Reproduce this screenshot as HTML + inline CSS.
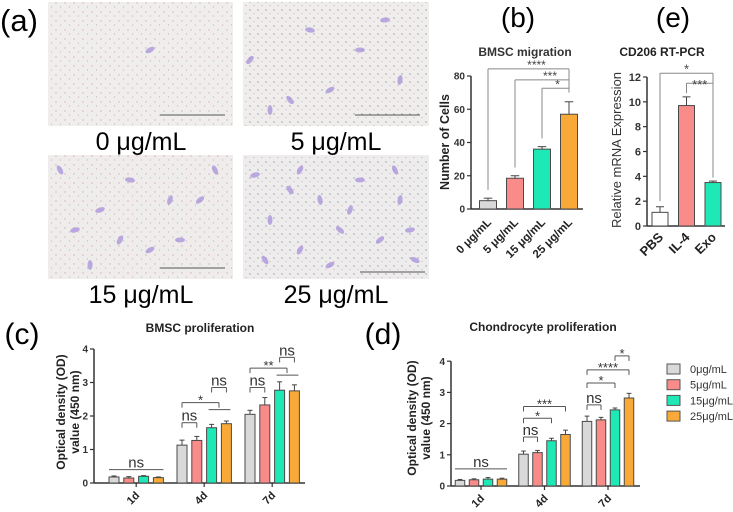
<!DOCTYPE html>
<html><head><meta charset="utf-8"><style>
body{margin:0;background:#fff;width:733px;height:512px;overflow:hidden}
svg{display:block;font-family:"Liberation Sans",Arial,sans-serif}
</style></head><body>
<svg id="fig" width="733" height="512" viewBox="0 0 733 512">
<defs>
<pattern id="dots" width="9" height="9" patternUnits="userSpaceOnUse">
<circle cx="2" cy="3" r="0.7" fill="#dcaab2"/><circle cx="6.5" cy="7" r="0.6" fill="#d0b0b5"/>
</pattern>
<pattern id="dots2" width="8" height="8" patternUnits="userSpaceOnUse">
<circle cx="2" cy="2" r="0.7" fill="#999"/><circle cx="6" cy="5.5" r="0.6" fill="#d8a8b0"/>
</pattern>
</defs>
<g id="panel-a">
<text x="0" y="31" font-size="31">(a)</text>
<g><rect x="48" y="2" width="185" height="124" fill="#efeeec"/><rect x="48" y="2" width="185" height="124" fill="url(#dots)"/><line x1="160" y1="115" x2="225" y2="115" stroke="#555" stroke-width="1"/></g>
<g><rect x="243" y="2" width="186" height="124" fill="#efeeec"/><rect x="243" y="2" width="186" height="124" fill="url(#dots2)"/><line x1="355" y1="115" x2="420" y2="115" stroke="#555"/></g>
<g><rect x="48" y="155" width="185" height="124" fill="#eeedec"/><rect x="48" y="155" width="185" height="124" fill="url(#dots)"/><line x1="160" y1="268" x2="225" y2="268" stroke="#555"/></g>
<g><rect x="243" y="155" width="186" height="124" fill="#eeedee"/><rect x="243" y="155" width="186" height="124" fill="url(#dots2)"/><line x1="360" y1="272" x2="425" y2="272" stroke="#555"/></g>
<g id="cells"></g>
<text x="141" y="150" font-size="25" text-anchor="middle">0 μg/mL</text>
<text x="336" y="150" font-size="25" text-anchor="middle">5 μg/mL</text>
<text x="141" y="303" font-size="25" text-anchor="middle">15 μg/mL</text>
<text x="336" y="303" font-size="25" text-anchor="middle">25 μg/mL</text>
</g>
<text x="518" y="27" font-size="28" text-anchor="middle">(b)</text>
<text x="673" y="27" font-size="28" text-anchor="middle">(e)</text>
<text x="22" y="344" font-size="30" text-anchor="middle">(c)</text>
<text x="383" y="344" font-size="30" text-anchor="middle">(d)</text>
<g id="charts"></g>
</svg>
<script>
// Panel b data
const bCats=["0 μg/mL","5 μg/mL","15 μg/mL","25 μg/mL"];
const bVals=[5,18.5,36,57];
const bErr=[1.5,1.5,1.5,7.5];
const bTicks=[0,20,40,60,80];
// Panel e data
const eCats=["PBS","IL-4","Exo"];
const eVals=[1.1,9.7,3.5];
const eErr=[0.45,0.7,0.12];
const eTicks=[0,2,4,6,8,10,12];
// Panels c/d data
const days=["1d","4d","7d"];
const groups=["0μg/mL","5μg/mL","15μg/mL","25μg/mL"];
const cVals=[[0.18,0.15,0.2,0.16],[1.13,1.27,1.65,1.77],[2.05,2.33,2.77,2.75]];
const cErr=[[0.03,0.04,0.02,0.02],[0.15,0.12,0.1,0.08],[0.12,0.22,0.25,0.18]];
const dVals=[[0.18,0.2,0.22,0.22],[1.02,1.07,1.45,1.65],[2.07,2.12,2.44,2.82]];
const dErr=[[0.03,0.03,0.05,0.03],[0.1,0.07,0.08,0.14],[0.17,0.08,0.06,0.15]];
const odTicks=[0,1,2,3,4];
const colors=["#d9d9d9","#f98c88","#1ee8b5","#f9a938"];
const ePalette=["#ffffff","#f98c88","#1ee8b5"];

const NS="http://www.w3.org/2000/svg";
const root=document.getElementById('charts');
function el(tag,attrs,parent,txt){const e=document.createElementNS(NS,tag);for(const k in attrs)e.setAttribute(k,attrs[k]);if(txt!==undefined)e.textContent=txt;(parent||root).appendChild(e);return e;}
function line(x1,y1,x2,y2,g,c,w){return el('line',{x1,y1,x2,y2,stroke:c||'#444','stroke-width':w||1},g);}
function bar(g,name,x,w,y0,yv,ye,fill){
  const r=el('rect',{x:x-w/2,y:yv,width:w,height:y0-yv,fill,stroke:'#4a4a4a','stroke-width':1},g);
  
  
  line(x,yv,x,ye,g);line(x-w/4,ye,x+w/4,ye,g);
}
function axes(g,x0,x1,y0,ticks,ys,fs){
  line(x0,y0,x0,ys(ticks[ticks.length-1]),g,'#333',1.5);
  line(x0,y0,x1,y0,g,'#333',1.5);
  ticks.forEach(t=>{const y=ys(t);line(x0-4,y,x0,y,g,'#333',1.2);
    el('text',{x:x0-6,y:y+fs*0.36,'font-size':fs,'text-anchor':'end','font-weight':'bold',fill:'#333'},g,t);});
}
function grp(name){const g=el('g',{});return g;}

// ---- Panel b
(function(){
  const g=grp('chart-b-bmsc-migration');
  const y0=209,k=(209-76)/80,ys=v=>y0-v*k,xs=i=>488+i*27;
  el('text',{x:525,y:56,'font-size':12,'text-anchor':'middle','font-weight':'bold',fill:'#333'},g,'BMSC migration');
  axes(g,471,583,y0,bTicks,ys,10);
  bVals.forEach((v,i)=>{const xt=xs(i);bar(g,'bar-b-'+i,xt,17,y0,ys(v),ys(v+bErr[i]),colors[i]);
    el('text',{x:xt+4,y:y0+14,'font-size':11.5,'font-weight':'bold','text-anchor':'end',transform:`rotate(-45 ${xt+4} ${y0+14})`,fill:'#222'},g,bCats[i]);});
  el('text',{x:449,y:142,'font-size':12.5,'font-weight':'bold','text-anchor':'middle',transform:'rotate(-90 449 142)',fill:'#222'},g,'Number of Cells');
  const sig=[[0,84.3,'****'],[1,77.7,'***'],[2,72.6,'*']];
  sig.forEach(([i,v,s])=>{const y=ys(v);line(xs(i),y,xs(3),y,g,'#888');line(xs(i),y,xs(i),ys(bVals[i]+bErr[i]+5),g,'#888');
    el('text',{x:(xs(i)+xs(3))/2+(i==2?2:8),y:y,'font-size':12,'text-anchor':'middle',fill:'#444'},g,s);});
  line(xs(3),ys(84.3),xs(3),ys(70),g,'#888');
})();

// ---- Panel e
(function(){
  const g=grp('chart-e-cd206');
  const y0=226,k=(226-77)/12,ys=v=>y0-v*k,xs=i=>660+i*26.5;
  el('text',{x:662,y:56,'font-size':12,'text-anchor':'middle','font-weight':'bold',fill:'#222'},g,'CD206 RT-PCR');
  axes(g,647,725,y0,eTicks,ys,11);
  eVals.forEach((v,i)=>{const xt=xs(i);bar(g,'bar-e-'+i,xt,16,y0,ys(v),ys(v+eErr[i]),ePalette[i]);
    el('text',{x:xt+4,y:y0+12,'font-size':13,'font-weight':'bold','text-anchor':'end',transform:`rotate(-45 ${xt+4} ${y0+12})`,fill:'#222'},g,eCats[i]);});
  el('text',{x:621,y:150,'font-size':13,'text-anchor':'middle',transform:'rotate(-90 621 150)',fill:'#333'},g,'Relative mRNA Expression');
  const y1=ys(12.3),y2=ys(11.5);
  line(xs(0),y1,xs(2),y1,g,'#888');line(xs(0),y1,xs(0),ys(2),g,'#888');
  line(xs(1),y2,xs(2),y2,g,'#888');line(xs(1),y2,xs(1),ys(10.7),g,'#888');
  line(xs(2),y1,xs(2),ys(3.9),g,'#888');
  el('text',{x:(xs(0)+xs(2))/2,y:y1,'font-size':13,'text-anchor':'middle',fill:'#444'},g,'*');
  el('text',{x:(xs(1)+xs(2))/2,y:y2+6,'font-size':13,'text-anchor':'middle',fill:'#444'},g,'***');
})();

// ---- Panels c & d
function odChart(name,cfg,vals,errs,sigs){
  const g=grp(name);
  const ys=v=>cfg.y0-v*cfg.k,xs=(d,i)=>cfg.x0+cfg.gx0+d*cfg.gd+i*cfg.bd;
  el('text',{x:cfg.tx,y:cfg.ty,'font-size':12,'text-anchor':'middle','font-weight':'bold',fill:'#222'},g,cfg.title);
  axes(g,cfg.x0,cfg.x1,cfg.y0,odTicks,ys,10);
  vals.forEach((row,d)=>{row.forEach((v,i)=>bar(g,`bar-${cfg.id}-${days[d]}-${i}`,xs(d,i),cfg.bw,cfg.y0,ys(v),ys(v+errs[d][i]),colors[i]));
    const cx=(xs(d,0)+xs(d,3))/2;line(cx,cfg.y0,cx,cfg.y0+4,g,'#333',1.2);
    el('text',{x:cx+4,y:cfg.y0+13,'font-size':11,'font-weight':'bold','text-anchor':'end',transform:`rotate(-45 ${cx+4} ${cfg.y0+13})`,fill:'#222'},g,days[d]);});
  el('text',{x:cfg.ax,y:cfg.ay,'font-size':12,'font-weight':'bold','text-anchor':'middle',transform:`rotate(-90 ${cfg.ax} ${cfg.ay})`,fill:'#222'},g,'Optical density (OD)');
  el('text',{x:cfg.ax+14,y:cfg.ay,'font-size':12,'font-weight':'bold','text-anchor':'middle',transform:`rotate(-90 ${cfg.ax+14} ${cfg.ay})`,fill:'#222'},g,'value (450 nm)');
  sigs.forEach(s=>{
    const y=ys(s.v);const xa=s.a<0?xs(s.d,0)-5:xs(s.d,s.a);
    let xb=s.b<0?xs(s.d,3)+5:(s.mid?(xs(s.d,2)+xs(s.d,3))/2:xs(s.d,s.b));
    line(xa,y,xb,y,g,'#555');
    if(s.a>=0){line(xa,y,xa,y+5,g,'#555');line(xb,y,xb,y+5,g,'#555');}
    if(s.mid){const ys2=ys(s.v)+7;line(xs(s.d,2)-3,ys2,xs(s.d,3)+4,ys2,g,'#555');}
    const isNs=s.t=='ns';
    el('text',{x:(xa+xb)/2,y:isNs?y-2:y+2,'font-size':isNs?15:13,'text-anchor':'middle',fill:'#333'},g,s.t);
  });
  return g;
}
odChart('chart-c-bmsc-proliferation',{id:'c',y0:483,k:33.5,x0:94,x1:305,gx0:20,gd:68,bd:14.8,bw:10,title:'BMSC proliferation',tx:200,ty:332,ax:65,ay:412},cVals,cErr,[
 {d:0,a:-1,b:-1,v:0.4,t:'ns'},{d:1,a:0,b:1,v:1.8,t:'ns'},{d:1,a:2,b:3,v:2.85,t:'ns'},{d:1,a:0,b:3,mid:true,v:2.4,t:'*'},
 {d:2,a:0,b:1,v:2.85,t:'ns'},{d:2,a:0,b:3,mid:true,v:3.43,t:'**'},{d:2,a:2,b:3,v:3.75,t:'ns'}]);
odChart('chart-d-chondrocyte-proliferation',{id:'d',y0:486,k:31.2,x0:451,x1:640,gx0:9,gd:63.5,bd:14,bw:9.5,title:'Chondrocyte proliferation',tx:543,ty:331,ax:416,ay:418},dVals,dErr,[
 {d:0,a:-1,b:-1,v:0.55,t:'ns'},{d:1,a:0,b:1,v:1.57,t:'ns'},{d:1,a:0,b:2,v:2.17,t:'*'},{d:1,a:0,b:3,v:2.55,t:'***'},
 {d:2,a:0,b:1,v:2.6,t:'ns'},{d:2,a:0,b:2,v:3.3,t:'*'},{d:2,a:0,b:3,v:3.72,t:'****'},{d:2,a:2,b:3,v:4.17,t:'*'}]);

// legend
(function(){
  const g=grp('legend');
  groups.forEach((n,i)=>{const y=369+i*15.7;
    const r=el('rect',{x:667,y:y-5,width:13,height:10,fill:colors[i],stroke:'#555'},g);
    
    
    const t=el('text',{x:690,y:y+4,'font-size':11,fill:'#333'},g,n);
    
    });
})();

// decorative stained cells in micrographs
(function(){
  const c=document.getElementById('cells');
  const pts=[[150,50],[250,60],[290,100],[310,30],[330,90],[360,50],[400,80],[385,20],[270,110],
   [60,170],[75,230],[100,210],[130,180],[150,250],[180,240],[200,200],[215,170],[90,265],[170,200],[120,240],
   [255,175],[270,220],[290,190],[300,250],[320,200],[340,230],[360,180],[380,240],[400,200],[415,260],[265,260],[330,265],[395,170],[350,210],[300,170],[410,230]];
  pts.forEach(p=>{el('ellipse',{cx:p[0],cy:p[1],rx:5,ry:2.5,fill:'#a38ad8','fill-opacity':0.7,transform:`rotate(${(p[0]*7)%180} ${p[0]} ${p[1]})`},c);});
})();
</script>
</body></html>
